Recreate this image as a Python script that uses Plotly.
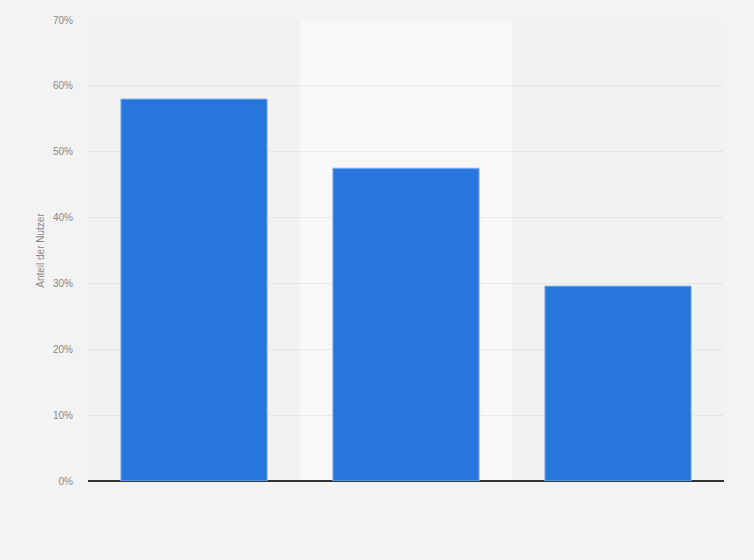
import plotly.graph_objects as go

categories = ["Kategorie A", "Kategorie B", "Kategorie C"]
values = [58.0, 47.5, 29.6]
y_ticks = [0, 10, 20, 30, 40, 50, 60, 70]
y_tick_labels = [f"{t}%" for t in y_ticks]

fig = go.Figure()
fig.add_trace(go.Bar(
    x=categories,
    y=values,
    marker=dict(color="#2876dd", line=dict(color="rgba(140,185,240,0.9)", width=1)),
    hovertemplate="%{y}%<extra></extra>",
))

# lighter band behind the middle category
fig.add_shape(type="rect", xref="x", yref="paper", x0=0.5, x1=1.5, y0=0, y1=1,
              fillcolor="#f8f8f8", line=dict(width=0), layer="below")

fig.update_layout(
    width=754, height=560,
    margin=dict(l=88, r=30, t=20, b=79),
    paper_bgcolor="#f3f3f3",
    plot_bgcolor="#f2f2f2",
    bargap=0.31,
    showlegend=False,
    font=dict(family="Liberation Sans, Arial, sans-serif", size=10, color="#888888"),
)
fig.update_xaxes(
    showticklabels=False, showgrid=False, zeroline=False,
    showline=False, ticks="",
)
fig.update_yaxes(
    range=[0, 70], tickvals=y_ticks, ticktext=y_tick_labels,
    showgrid=True, gridcolor="#d9d9d9", griddash="1px,1px", gridwidth=1,
    zeroline=True, zerolinecolor="#333333", zerolinewidth=1.5,
    ticklabelstandoff=14,
    tickfont=dict(size=10, color="#888888"),
    title=dict(text="Anteil der Nutzer", font=dict(size=10, color="#888888"), standoff=6),
)

fig.write_html("out.html", config={"displayModeBar": False},
               post_script="document.body.style.margin='0';")
